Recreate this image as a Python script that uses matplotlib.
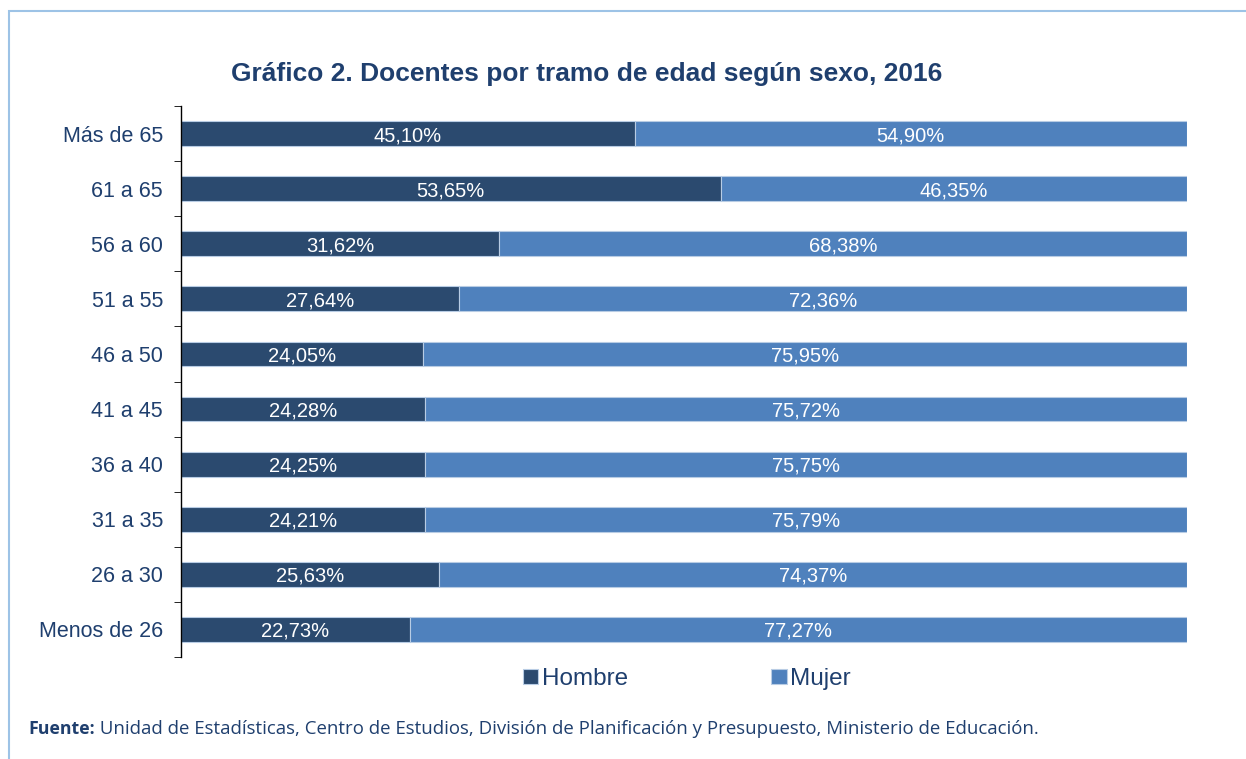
import matplotlib
matplotlib.use("Agg")
import matplotlib.pyplot as plt
from matplotlib.patches import Rectangle
import numpy as np

# data, top to bottom as in the picture
tramos = ["Más de 65", "61 a 65", "56 a 60", "51 a 55", "46 a 50",
          "41 a 45", "36 a 40", "31 a 35", "26 a 30", "Menos de 26"]
hombre = [45.10, 53.65, 31.62, 27.64, 24.05, 24.28, 24.25, 24.21, 25.63, 22.73]
mujer = [54.90, 46.35, 68.38, 72.36, 75.95, 75.72, 75.75, 75.79, 74.37, 77.27]

c_hombre = "#2B4A6F"
c_mujer = "#4F81BD"
navy = "#1F3F6E"

plt.rcParams['font.family'] = ['Liberation Sans', 'DejaVu Sans']

W, H = 1246, 759
fig = plt.figure(figsize=(W / 100, H / 100), dpi=100)
ax = fig.add_axes([181 / W, 1 - 657 / H, (1187 - 181) / W, (657 - 106) / H])

y = np.arange(len(tramos))
ax.barh(y, hombre, height=0.45, color=c_hombre, edgecolor="#B8CCE4", linewidth=0.8, label="Hombre")
ax.barh(y, mujer, left=hombre, height=0.45, color=c_mujer, edgecolor="#B8CCE4", linewidth=0.8, label="Mujer")

for i in range(len(tramos)):
    ax.text(hombre[i] / 2, y[i], f"{hombre[i]:.2f}%".replace(".", ","),
            ha="center", va="center_baseline", color="white", fontsize=14.5)
    ax.text(hombre[i] + mujer[i] / 2, y[i], f"{mujer[i]:.2f}%".replace(".", ","),
            ha="center", va="center_baseline", color="white", fontsize=14.5)

ax.set_xlim(0, 100)
ax.set_ylim(len(tramos) - 0.5, -0.5)
ax.set_yticks(y)
ax.set_yticklabels(tramos, fontsize=15.5, color=navy, va="center_baseline")
ax.set_yticks(np.arange(-0.5, len(tramos)), minor=True)
ax.tick_params(axis="y", which="major", length=0, pad=13)
ax.tick_params(axis="y", which="minor", length=5, direction="out", color="black")
ax.set_xticks([])
for s in ["top", "right", "bottom"]:
    ax.spines[s].set_visible(False)
ax.spines["left"].set_color("black")
ax.spines["left"].set_linewidth(1)

fig.text(587 / W, 1 - 74 / H, "Gráfico 2. Docentes por tramo de edad según sexo, 2016",
         ha="center", va="center", fontsize=19, fontweight="bold", color=navy)

leg = ax.legend(loc="center", bbox_to_anchor=(0.503, -0.04), ncol=2, frameon=False,
                fontsize=17.5, handlelength=0.62, handleheight=0.62, handletextpad=0.15,
                columnspacing=5.9, labelcolor=navy)

t1 = fig.text(28 / W, 1 - 729 / H, "Fuente:", fontsize=12.8, fontweight="bold",
              color=navy, va="center", family=["Open Sans", "DejaVu Sans"])
ax.annotate(" Unidad de Estadísticas, Centro de Estudios, División de Planificación y Presupuesto, Ministerio de Educación.",
            xy=(1, 0.5), xycoords=t1, va="center", ha="left", fontsize=13.4, color=navy,
            family=["Open Sans", "DejaVu Sans"], annotation_clip=False)

fig.patches.append(Rectangle((8.5 / W, -0.1), 1.2, 1 - 11.5 / H + 0.1, transform=fig.transFigure,
                             fill=False, edgecolor="#9DC3E6", linewidth=1.5))

fig.savefig("out.png", dpi=100)
